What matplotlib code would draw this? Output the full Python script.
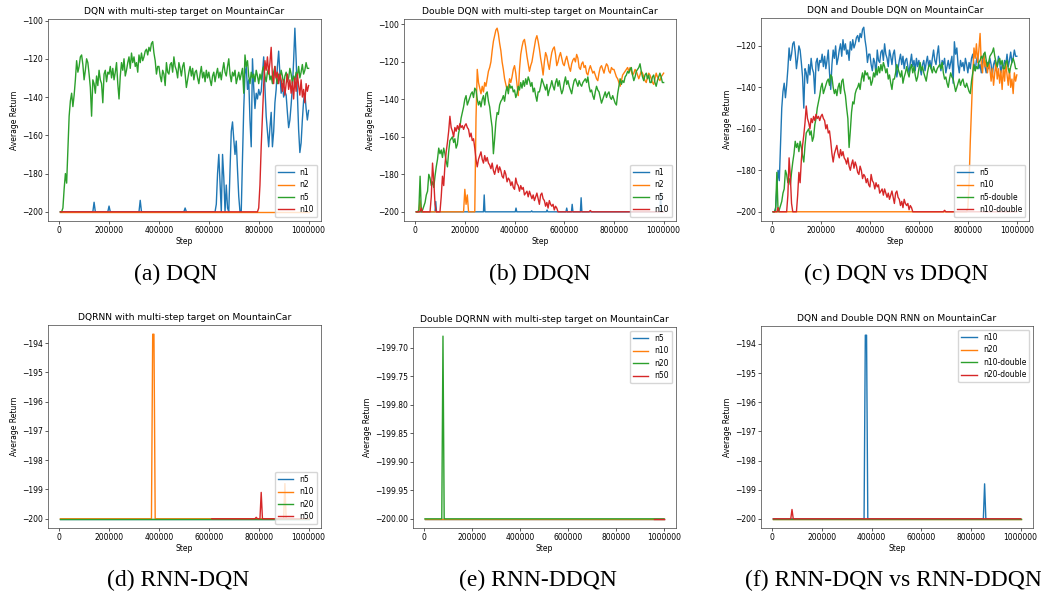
import numpy as np
import matplotlib.pyplot as plt

plt.rcParams['font.size'] = 5.5
plt.rcParams['axes.linewidth'] = 0.5
plt.rcParams['axes.edgecolor'] = '0.25'
plt.rcParams['xtick.major.width'] = 0.45
plt.rcParams['ytick.major.width'] = 0.45
plt.rcParams['xtick.major.size'] = 2
plt.rcParams['ytick.major.size'] = 2
plt.rcParams['xtick.major.pad'] = 1.8
plt.rcParams['ytick.major.pad'] = 1.8
plt.rcParams['lines.linewidth'] = 1.0
plt.rcParams['legend.fontsize'] = 5.5

# common 5k step grid
steps = np.arange(5000, 1000001, 5000)

# ---- DQN (a) ----
dqn_n5 = [
    -200, -200, -198, -188, -180, -185, -168, -150, -142,
    -138, -145, -139, -131, -121, -127, -124, -119, -118, -123,
    -131, -126, -120, -122, -128, -135, -150, -131, -133, -138,
    -129, -134, -126, -131, -133, -143, -128, -126, -132, -127,
    -128, -124, -130, -125, -131, -127, -122, -133, -141, -129,
    -122, -126, -120, -129, -126, -122, -119, -125, -117, -122,
    -119, -124, -122, -127, -118, -122, -117, -121, -119, -116,
    -115, -118, -114, -116, -112, -111, -117, -121, -128, -124,
    -124, -129, -132, -126, -128, -134, -122, -127, -128, -123,
    -122, -127, -119, -124, -126, -130, -122, -125, -129, -124,
    -122, -128, -135, -131, -127, -124, -129, -125, -131, -127,
    -126, -130, -133, -128, -124, -130, -127, -132, -126, -130,
    -127, -131, -134, -129, -127, -132, -128, -125, -130, -127,
    -131, -126, -122, -127, -129, -124, -120, -128, -132, -127,
    -129, -126, -133, -130, -127, -131, -128, -125, -138, -118,
    -124, -121, -129, -133, -127, -130, -128, -132, -126, -129,
    -133, -128, -131, -126, -124, -129, -132, -127, -125, -131,
    -129, -133, -127, -124, -130, -133, -128, -131, -126, -129,
    -134, -129, -127, -132, -130, -125, -128, -133, -129, -131,
    -127, -129, -124, -130, -127, -123, -128, -126, -122, -125,
    -125]

dqn_n1_x = [5000, 135000, 140000, 145000, 195000, 200000, 205000,
            320000, 325000, 330000, 500000, 505000, 510000] + list(range(625000, 1000001, 5000))
dqn_n1_y = [-200, -200, -195, -200, -200, -197, -200,
            -200, -194, -200, -200, -198, -200,
            -200, -196, -180, -170, -185, -200, -170, -182, -200, -186,
            -198, -200, -178, -158, -153, -162, -170, -163, -178, -192,
            -200, -200, -172, -146, -128, -124, -136, -131, -152, -166,
            -120, -135, -146, -138, -141, -136, -139, -137, -128, -119,
            -135, -150, -158, -166, -156, -148, -166, -158, -143, -136,
            -124, -116, -128, -138, -133, -140, -137, -139, -148, -156,
            -152, -144, -135, -121, -104, -120, -138, -157, -169, -164,
            -152, -142, -138, -146, -152, -147]

dqn_n2_x = [5000, 1000000]
dqn_n2_y = [-200, -200]

dqn_n10_x = [5000] + list(range(785000, 1000001, 5000))
dqn_n10_y = [-200, -200, -200, -200, -198, -186, -166, -150, -134, -121,
             -126, -119, -128, -122, -114, -129, -133, -124, -130, -127,
             -133, -128, -131, -137, -131, -139, -133, -128, -136, -131,
             -138, -132, -141, -130, -137, -128, -134, -139, -131, -140,
             -136, -143, -133, -137, -134]

# ---- Double DQN (b) ----
ddqn_n1_x = [5000, 80000, 83000, 86000, 275000, 278000, 281000, 403000, 406000, 409000,
             466000, 469000, 472000, 528000, 531000, 534000, 607000, 610000, 613000,
             629000, 632000, 635000, 665000, 668000, 671000, 985000, 988000, 991000, 1000000]
ddqn_n1_y = [-200, -200, -194.5, -200, -200, -191, -200, -200, -198, -200,
             -200, -199.5, -200, -200, -199, -200, -200, -198, -200,
             -200, -196, -200, -200, -192.5, -200, -200, -190, -200, -200]

ddqn_n2_x = [5000, 15000, 20000, 25000, 195000, 200000, 205000, 210000, 215000] + \
    list(range(240000, 1000001, 5000))
ddqn_n2_y = [-200, -200, -194, -200, -200, -188, -196, -191, -200,
             -200, -150,
             -124, -131, -134, -137, -133, -136, -131, -133, -129, -125,
             -123, -120, -114, -109, -106, -103, -102, -105, -110, -114,
             -120, -124, -129, -132, -135, -134, -129, -131, -128, -124,
             -122, -126, -132, -138, -124, -116, -112, -109, -108, -112,
             -117, -121, -125, -122, -120, -116, -112, -108, -106, -109,
             -113, -118, -122, -127, -120, -115, -117, -121, -124, -119,
             -115, -113, -112, -116, -122, -120, -117, -115, -118, -121,
             -122, -119, -117, -120, -123, -125, -121, -119, -118, -120,
             -116, -118, -123, -124, -121, -120, -123, -122, -126, -127,
             -124, -122, -124, -126, -125, -127, -129, -130, -126, -123,
             -122, -124, -126, -123, -121, -122, -125, -126, -123, -124,
             -124, -126, -128, -129, -131, -133, -130, -127, -126, -125,
             -124, -123, -125, -123, -125, -127, -126, -124, -125, -127,
             -129, -127, -125, -126, -128, -130, -131, -128, -126, -127,
             -129, -131, -132, -129, -126, -128, -129, -130, -128, -127,
             -126]

ddqn_n5 = [
    -200, -200, -199, -181, -200, -199, -197, -195, -191,
    -189, -180, -182, -186, -184, -187, -181, -176, -172, -166,
    -169, -167, -171, -166, -169, -173, -176, -168, -162, -161,
    -160, -163, -161, -166, -164, -158, -155, -150, -147, -144,
    -140, -138, -143, -141, -139, -137, -136, -139, -134, -135,
    -140, -143, -141, -144, -140, -138, -143, -137, -136, -141,
    -144, -150, -155, -169, -161, -152, -147, -148, -143, -141,
    -140, -138, -141, -136, -133, -137, -132, -134, -133, -136,
    -135, -139, -137, -133, -135, -131, -134, -130, -133, -129,
    -132, -128, -130, -133, -131, -136, -134, -138, -141, -136,
    -136, -133, -129, -131, -133, -135, -132, -138, -135, -133,
    -130, -133, -135, -131, -129, -133, -130, -134, -137, -135,
    -131, -128, -132, -130, -133, -135, -137, -133, -130, -129,
    -131, -133, -130, -132, -133, -131, -130, -129, -131, -128,
    -133, -136, -135, -138, -140, -136, -133, -135, -136, -139,
    -142, -140, -138, -136, -139, -137, -136, -139, -140, -138,
    -140, -142, -143, -137, -133, -129, -132, -130, -131, -128,
    -127, -125, -126, -124, -123, -127, -130, -128, -125, -124,
    -123, -121, -125, -128, -130, -127, -126, -129, -127, -131,
    -131, -128, -127, -131, -133, -130, -128, -126, -128, -131,
    -131]

ddqn_n10_x = list(range(5000, 600001, 5000)) + [700000, 705000, 710000, 1000000]
ddqn_n10_y = [
    -200, -200, -200, -200, -198, -200, -200, -200, -200,
    -200, -200, -200, -192, -174, -183, -196, -200, -200, -200,
    -200, -192, -181, -186, -175, -168, -163, -157, -149, -155,
    -157, -160, -155, -157, -154, -156, -153, -155, -154, -156,
    -154, -153, -155, -156, -160, -158, -162, -161, -166, -172,
    -176, -172, -170, -168, -172, -174, -170, -173, -171, -174,
    -175, -177, -174, -178, -180, -177, -175, -179, -176, -178,
    -181, -182, -178, -180, -184, -182, -183, -186, -184, -187,
    -188, -182, -185, -186, -189, -186, -188, -187, -191, -190,
    -189, -192, -189, -191, -193, -191, -194, -192, -190, -193,
    -196, -191, -190, -193, -194, -197, -195, -198, -194, -196,
    -197, -196, -199, -197, -198, -200, -200, -200, -200, -200,
    -200,
    -200, -199.3, -200, -200]

# ---- DQN RNN (d) ----
rdqn_n5_x = [5000, 1000000]
rdqn_n5_y = [-200, -200]
rdqn_n10_x = [5000, 370000, 375000, 380000, 385000, 900000, 905000, 910000, 1000000]
rdqn_n10_y = [-200, -200, -193.7, -193.7, -200, -200, -198.8, -200, -200]
rdqn_n20_x = [5000, 1000000]
rdqn_n20_y = [-200, -200]
rdqn_n50_x = [612000, 785000, 790000, 795000, 805000, 810000, 815000, 1000000]
rdqn_n50_y = [-200, -200, -199.95, -200, -200, -199.1, -200, -200]

# ---- Double DQN RNN (e) ----
rddqn_n5_x = [5000, 1000000]
rddqn_n5_y = [-200, -200]
rddqn_n10_x = [5000, 1000000]
rddqn_n10_y = [-200, -200]
rddqn_n20_x = [5000, 75000, 80000, 85000, 1000000]
rddqn_n20_y = [-200, -200, -199.68, -200, -200]
rddqn_n50_x = [960000, 1000000]
rddqn_n50_y = [-200, -200]

# ---- comparison run (f), n10 as drawn there ----
cmp_n10_x = [5000, 370000, 375000, 380000, 385000, 850000, 855000, 860000, 1000000]
cmp_n10_y = [-200, -200, -193.7, -193.7, -200, -200, -198.8, -200, -200]

W, H = 1041, 596
fig = plt.figure(figsize=(W / 100, H / 100), dpi=100)

# axes boxes in pixels: left, top, right, bottom
boxes = [(48, 19, 321, 221), (404, 19, 676, 221), (761, 18, 1029, 221),
         (48, 325, 321, 528), (413, 327, 676, 528), (761, 326, 1033, 528)]


def make_ax(box):
    l, t, r, b = box
    return fig.add_axes([l / W, 1 - b / H, (r - l) / W, (b - t) / H])


def finish(ax, title, loc):
    ax.set_title(title, fontsize=6.6, pad=3.5)
    ax.set_xlabel('Step', labelpad=1.5)
    ax.set_ylabel('Average Return', labelpad=2)
    ax.ticklabel_format(style='plain', useOffset=False)
    ax.legend(loc=loc, handlelength=2.0, borderpad=0.4, labelspacing=0.45,
              handletextpad=0.8, framealpha=0.8)


axes = [make_ax(b) for b in boxes]

ax = axes[0]
ax.plot(dqn_n1_x, dqn_n1_y, label='n1')
ax.plot(dqn_n2_x, dqn_n2_y, label='n2')
ax.plot(steps, dqn_n5, label='n5')
ax.plot(dqn_n10_x, dqn_n10_y, label='n10')
finish(ax, 'DQN with multi-step target on MountainCar', 'lower right')

ax = axes[1]
ax.plot(ddqn_n1_x, ddqn_n1_y, label='n1')
ax.plot(ddqn_n2_x, ddqn_n2_y, label='n2')
ax.plot(steps, ddqn_n5, label='n5')
ax.plot(ddqn_n10_x, ddqn_n10_y, label='n10')
finish(ax, 'Double DQN with multi-step target on MountainCar', 'lower right')

ax = axes[2]
ax.plot(steps, dqn_n5, label='n5')
ax.plot(dqn_n10_x, dqn_n10_y, label='n10')
ax.plot(steps, ddqn_n5, label='n5-double')
ax.plot(ddqn_n10_x, ddqn_n10_y, label='n10-double')
finish(ax, 'DQN and Double DQN on MountainCar', 'lower right')

ax = axes[3]
ax.plot(rdqn_n5_x, rdqn_n5_y, label='n5')
ax.plot(rdqn_n10_x, rdqn_n10_y, label='n10')
ax.plot(rdqn_n20_x, rdqn_n20_y, label='n20')
ax.plot(rdqn_n50_x, rdqn_n50_y, label='n50')
finish(ax, 'DQRNN with multi-step target on MountainCar', 'lower right')

ax = axes[4]
ax.plot(rddqn_n5_x, rddqn_n5_y, label='n5')
ax.plot(rddqn_n10_x, rddqn_n10_y, label='n10')
ax.plot(rddqn_n20_x, rddqn_n20_y, label='n20')
ax.plot(rddqn_n50_x, rddqn_n50_y, label='n50')
finish(ax, 'Double DQRNN with multi-step target on MountainCar', 'upper right')

ax = axes[5]
ax.plot(cmp_n10_x, cmp_n10_y, label='n10')
ax.plot(rdqn_n20_x, rdqn_n20_y, label='n20')
ax.plot(rddqn_n10_x, rddqn_n10_y, label='n10-double')
ax.plot(rddqn_n20_x, rddqn_n20_y, label='n20-double')
finish(ax, 'DQN and Double DQN RNN on MountainCar', 'upper right')

captions = ['(a) DQN', '(b) DDQN', '(c) DQN vs DDQN',
            '(d) RNN-DQN', '(e) RNN-DDQN', '(f) RNN-DQN vs RNN-DDQN']
cap_x = [176, 540, 896, 178, 538, 893]
cap_y = [274, 274, 274, 580, 580, 580]
for c, cx, cy in zip(captions, cap_x, cap_y):
    fig.text(cx / W, 1 - cy / H, c, family='Liberation Serif', fontsize=17,
             ha='center', va='center')

fig.savefig('out.png', dpi=100)
